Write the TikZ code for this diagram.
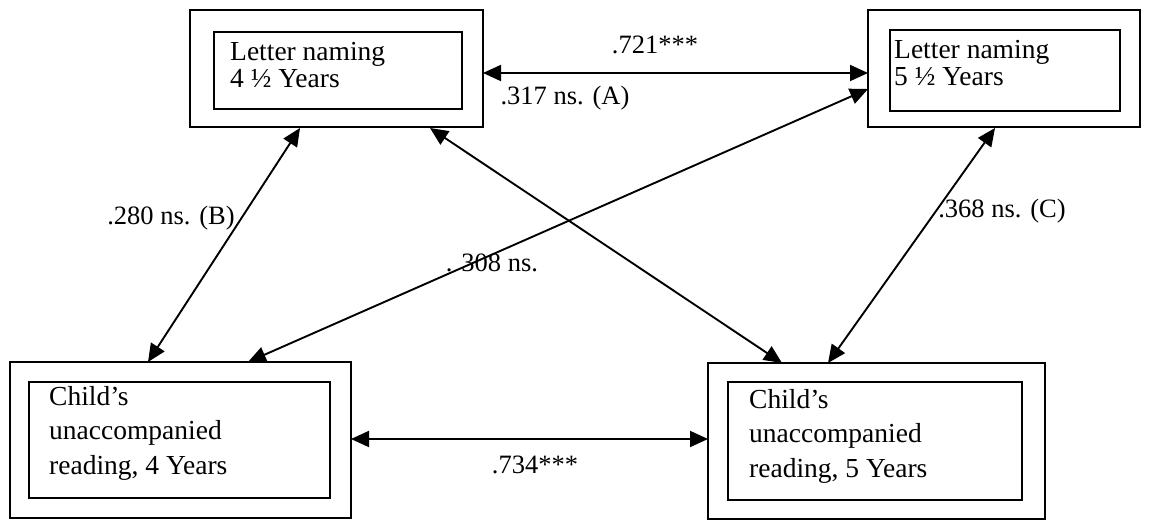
\documentclass[tikz,border=0pt]{standalone}
\usepackage{fontspec}
\setmainfont{Liberation Serif}
\usetikzlibrary{arrows.meta}
\tikzset{
  frame/.style={draw, line width=1.8pt},
  txt/.style={align=left, inner sep=0pt, anchor=west, font=\fontsize{27.5}{27}\selectfont},
  txtb/.style={align=left, inner sep=0pt, anchor=west, font=\fontsize{27.5}{34.5}\selectfont},
  lbl/.style={inner sep=0pt, font=\fontsize{26.5}{28}\selectfont},
  link/.style={line width=1.9pt, {Triangle[length=18pt,width=16pt]}-{Triangle[length=18pt,width=16pt]}}
}
\begin{document}
\begin{tikzpicture}[x=1pt, y=-1pt]
\useasboundingbox (0,0) rectangle (1155,521);

% outer frames
\draw[frame] (190,10) rectangle (483,127);
\draw[frame] (868,10) rectangle (1140,127);
\draw[frame] (10,362) rectangle (351,518);
\draw[frame] (708,363) rectangle (1045,519);
% inner frames
\draw[frame] (214,32) rectangle (462,109);
\draw[frame] (890,30) rectangle (1120,111);
\draw[frame] (29,382) rectangle (330,498);
\draw[frame] (728,382) rectangle (1022,500);

% box texts
\node[txt] (ln4) at (230,65) {Letter naming\\4 \textonehalf{} Years};
\node[txt] (ln5) at (894,63) {Letter naming\\5 \textonehalf{} Years};
\node[txtb] (cr4) at (49,433) {Child’s\\unaccompanied\\reading, 4 Years};
\node[txtb] (cr5) at (749,436) {Child’s\\unaccompanied\\reading, 5 Years};

% arrow end points on the frames
\coordinate (tlR) at (483,73);
\coordinate (trL) at (868,73);
\coordinate (trL2) at (868,89);
\coordinate (tlB1) at (300,128);
\coordinate (tlB2) at (430,128);
\coordinate (trB) at (995,128);
\coordinate (blT1) at (148,362);
\coordinate (blT2) at (248,362);
\coordinate (blR) at (351,439);
\coordinate (brL) at (708,439);
\coordinate (brT1) at (782,363);
\coordinate (brT2) at (828,363);

% connectors
\draw[link] (tlR) -- (trL);
\draw[link] (tlB1) -- (blT1);
\draw[link] (tlB2) -- (brT1);
\draw[link] (trL2) -- (blT2);
\draw[link] (trB) -- (brT2);
\draw[link] (blR) -- (brL);

% coefficients
\node[lbl] (c1) at (655,45) {.721***};
\node[lbl] (c2) at (565,98) {.317 ns. (A)};
\node[lbl] (c3) at (171,218) {.280 ns. (B)};
\node[lbl] (c4) at (1002,211) {.368 ns. (C)};
\node[lbl] (c5) at (492,263) {. 308 ns.};
\node[lbl] (c6) at (535,465) {.734***};
\end{tikzpicture}
\end{document}
